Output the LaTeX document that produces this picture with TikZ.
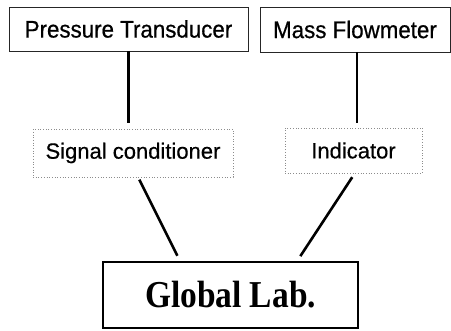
\documentclass[tikz,border=0pt]{standalone}
\usepackage{fontspec}
\setsansfont{Liberation Sans}
\newfontfamily\boxfont[FakeStretch=0.93,FakeBold=0.6]{Liberation Sans}
\newfontfamily\condfont[FakeBold=0.5]{Liberation Sans}
\newfontfamily\labfont[FakeStretch=0.88]{Liberation Serif}
\tikzset{
  topbox/.style={draw=black!85,line width=0.9pt,inner sep=0pt,outer sep=0pt,font=\boxfont\fontsize{24}{26}\selectfont},
  condbox/.style={draw=black!45,dotted,line width=0.7pt,inner sep=0pt,outer sep=0pt,font=\condfont\fontsize{22}{24}\selectfont},
  mainbox/.style={draw,line width=1.3pt,inner sep=0pt,outer sep=0pt,font=\labfont\bfseries\fontsize{38}{40}\selectfont},
  link/.style={line width=2.6pt}
}
\begin{document}
\begin{tikzpicture}[x=1pt,y=-1pt]
\useasboundingbox (0,0) rectangle (451,331);

\node[topbox,minimum width=239pt,minimum height=44pt] (pt) at (128.5,29) {Pressure Transducer};
\node[topbox,minimum width=190pt,minimum height=45pt] (mf) at (355,29.5) {Mass Flowmeter};

\node[condbox,minimum width=200pt,minimum height=48pt] (sc) at (133,153) {Signal conditioner};
\node[condbox,minimum width=137pt,minimum height=45pt] (ind) at (353.5,150.5) {Indicator};

\node[mainbox,minimum width=255pt,minimum height=66pt] (gl) at (230.5,295) {Global Lab.};

\draw[link,shorten >=6pt] (pt.south) -- (pt.south |- sc.north);
\draw[link,shorten >=5pt] ([xshift=2pt]mf.south) -- ([xshift=2pt]mf.south |- ind.north);
\draw[link,shorten <=3pt,shorten >=7pt] ([xshift=5pt]sc.south) -- ([xshift=-50pt]gl.north);
\draw[link,shorten <=5pt,shorten >=7pt] ([xshift=1.5pt]ind.south) -- ([xshift=66pt]gl.north);
\end{tikzpicture}
\end{document}
